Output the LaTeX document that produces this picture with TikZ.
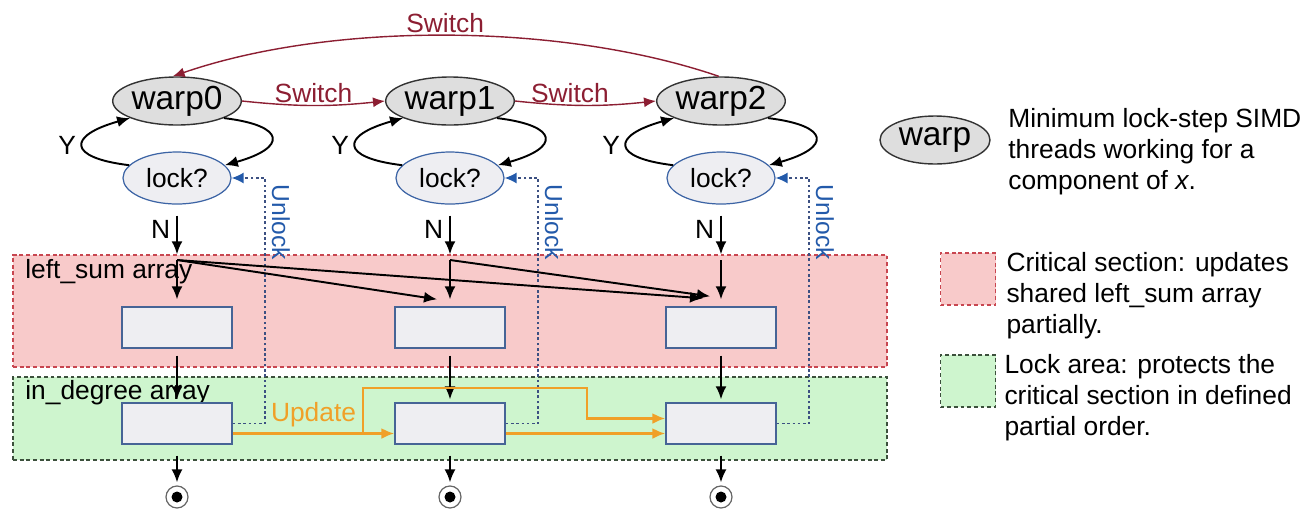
\documentclass[tikz,border=0pt]{standalone}
\usepackage{fontspec}
\setmainfont{Liberation Sans}
\usepackage{xcolor}
\definecolor{swred}{RGB}{140,30,50}
\definecolor{lkblue}{RGB}{60,100,165}
\definecolor{ulline}{RGB}{60,80,130}
\definecolor{ulblue}{RGB}{35,90,170}
\definecolor{updorange}{RGB}{240,160,40}
\definecolor{csred}{RGB}{248,202,202}
\definecolor{csborder}{RGB}{200,70,80}
\definecolor{lagreen}{RGB}{206,245,206}
\definecolor{laborder}{RGB}{60,80,60}
\definecolor{cellfill}{RGB}{238,238,242}
\definecolor{cellborder}{RGB}{70,100,150}
\usepackage{tikz}
\usetikzlibrary{positioning,arrows.meta,calc,shapes.geometric}
\newcommand{\txtsize}{\fontsize{15}{17.6}\selectfont}
\newcommand{\warpsize}{\fontsize{19}{22}\selectfont}
\newcommand{\unlsize}{\fontsize{14}{16}\selectfont}

\begin{document}
\begin{tikzpicture}[
  font=\txtsize,
  warp/.style={ellipse, draw=black!80, fill=black!13, line width=0.8pt, minimum width=2.2cm,
    minimum height=0.96cm, inner sep=0pt, font=\warpsize},
  lockq/.style={ellipse, draw=lkblue, fill=cellfill, line width=0.7pt, minimum width=2.16cm,
    minimum height=1.04cm, inner sep=0pt},
  cell/.style={draw=cellborder, fill=cellfill, line width=0.8pt, minimum width=2.2cm, minimum height=0.82cm},
  region/.style={line width=0.8pt, dash pattern=on 2.2pt off 1.6pt},
  endpt/.style={circle, draw=black!60, line width=0.7pt, minimum size=0.44cm, inner sep=0pt,
    path picture={\fill[black] (path picture bounding box.center) circle (0.11);}},
  arrow/.style={-{Latex[length=2.6mm,width=2.2mm]}, line width=1.1pt},
  sw/.style={-{Latex[length=2.4mm,width=2mm]}, line width=0.8pt, swred},
  unl/.style={-{Latex[length=2.4mm,width=2.2mm,color=ulblue]}, ulline, line width=0.9pt, dash pattern=on 1.5pt off 1.5pt},
  upd/.style={-{Latex[length=2.6mm,width=2.2mm]}, updorange, line width=1.3pt}]

  \useasboundingbox (0,0) rectangle (26.32,-10.18);

  % --- shared arrays (background) ---
  \node[region, fill=csred, draw=csborder, minimum width=17.48cm, minimum height=2.24cm] (cs) at (9.0,-6.22) {};
  \node[region, fill=lagreen, draw=laborder, minimum width=17.48cm, minimum height=1.66cm] (la) at (9.0,-8.37) {};
  \node[anchor=base west, inner sep=0pt] (lslbl) at (0.5,-5.56) {left\_sum array};
  \node[anchor=base west, inner sep=0pt] (idlbl) at (0.5,-7.98) {in\_degree array};

  % --- one column per warp ---
  \foreach \i/\x in {0/3.54, 1/9.0, 2/14.42} {
    \node[warp]  (w\i)   at (\x,-2.02) {warp\i};
    \node[lockq] (lk\i)  at (\x,-3.56) {lock?};
    \node[cell]  (ls\i)  at (\x,-6.55) {};
    \node[cell]  (id\i)  at (\x,-8.47) {};
    \node[endpt] (end\i) at (\x,-9.94) {};
    \coordinate (fan\i) at (\x,-5.2);
    \draw[arrow] (w\i.-20) .. controls +(1.25,-0.15) and +(1.25,0.35) .. (lk\i.15);
    \draw[arrow] (lk\i.165) .. controls +(-1.25,0.15) and +(-1.25,-0.35) .. node[left]{Y} (w\i.200);
    \draw[arrow, shorten <=2.2mm] (lk\i.south) -- node[left]{N} (lk\i.south |- cs.north);
    \draw[arrow] (fan\i) -- ([yshift=1.4mm]ls\i.north);
    \draw[arrow, shorten <=1.4mm] (ls\i.south) -- ([yshift=0.6mm]id\i.north);
    \draw[arrow, shorten <=2.2mm] (id\i.south) -- ([yshift=0.6mm]end\i.north);
    \draw[unl] (id\i.east) -- ++(0.65,0) |- node[pos=0.41, rotate=-90, anchor=south, font=\unlsize, text=ulblue]{Unlock} (lk\i.east);
  }

  % --- warp switching ---
  \draw[sw] (w0.east) to[bend right=6] node[above, inner sep=1pt]{Switch} (w1.west);
  \draw[sw] (w1.east) to[bend right=6] node[pos=0.38, above, inner sep=1pt]{Switch} (w2.west);
  \draw[sw] (w2.95) .. controls (11.2,-0.44) and (6.6,-0.44) .. node[above, inner sep=1pt]{Switch} (w0.100);

  % --- left_sum updates ---
  \draw[arrow] (fan0) -- ([xshift=-2.6mm,yshift=1.4mm]ls1.north);
  \draw[arrow] (fan0) -- ([xshift=-3.6mm,yshift=1.6mm]ls2.north);
  \draw[arrow] (fan1) -- ([xshift=-2.2mm,yshift=2mm]ls2.north);

  % --- in_degree updates ---
  \coordinate (upb) at (7.26,-8.67);
  \coordinate (upk) at (11.74,-7.76);
  \draw[upd] ([yshift=-2mm]id0.east) -- node[above]{Update} ([yshift=-2mm]id1.west);
  \draw[upd] (upb) |- (upk) |- ([yshift=1mm]id2.west);
  \draw[upd] ([yshift=-2mm]id1.east) -- ([yshift=-2mm]id2.west);

  % --- legend ---
  \node[warp] (lgw) at (18.7,-2.8) {warp};
  \node[anchor=west, align=left, inner sep=0pt] (lgwt) at (20.16,-3.04)
    {Minimum lock-step SIMD\\threads working for a\\component of \textit{x}.};
  \node[region, fill=csred, draw=csborder, minimum width=1.1cm, minimum height=1.04cm] (lgcs) at (19.36,-5.58) {};
  \node[anchor=north west, align=left, inner sep=0pt] (lgcst) at ([xshift=2mm]lgcs.north east)
    {Critical section: updates\\shared left\_sum array\\partially.};
  \node[region, fill=lagreen, draw=laborder, minimum width=1.1cm, minimum height=1.04cm] (lgla) at (19.36,-7.62) {};
  \node[anchor=north west, align=left, inner sep=0pt] (lglat) at ([xshift=1.6mm]lgla.north east)
    {Lock area: protects the\\critical section in defined\\partial order.};
\end{tikzpicture}
\end{document}
